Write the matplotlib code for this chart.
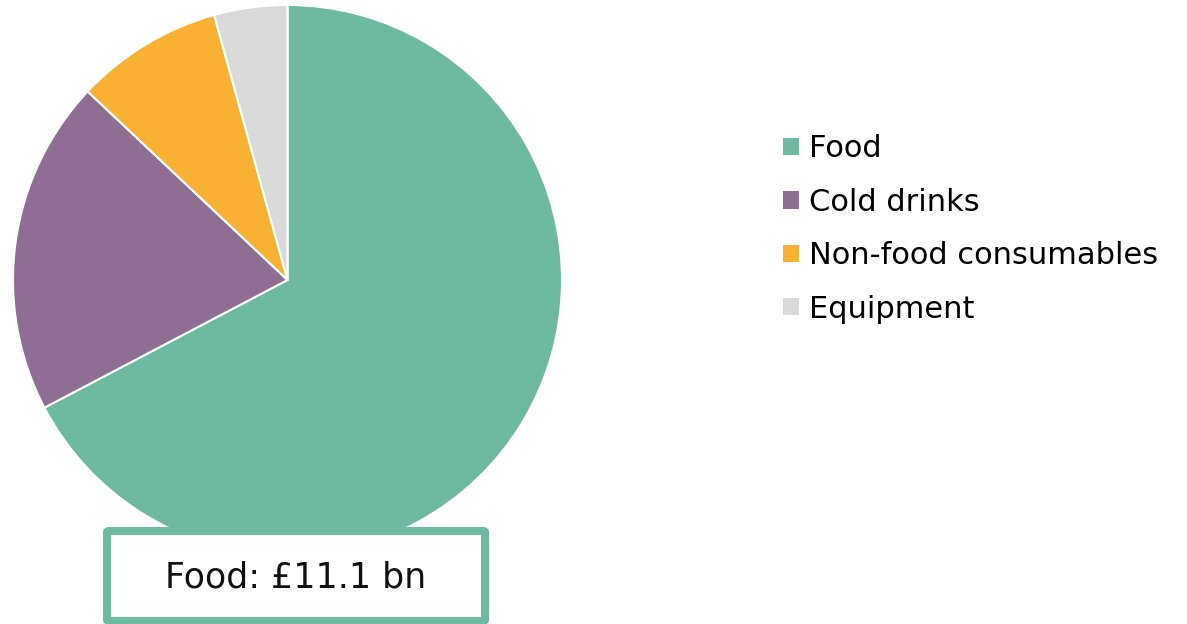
import matplotlib
matplotlib.use("Agg")
import matplotlib.pyplot as plt
from matplotlib.patches import FancyBboxPatch, Patch

# spend by category, £bn (food is labelled 11.1)
categories = ["Food", "Cold drinks", "Non-food consumables", "Equipment"]
values = [11.1, 3.25, 1.43, 0.71]
colours = ["#6DBAA1", "#8F6E93", "#F8B133", "#DADADA"]
callout = "Food: £11.1 bn"

plt.rcParams['font.family'] = ['DejaVu Sans']

W, H = 1187, 624
fig = plt.figure(figsize=(W / 100, H / 100), dpi=100)

# pie axes placed in pixel terms
ax = fig.add_axes([13 / W, (H - 555) / H, 549 / W, 550 / H])
ax.pie(values, colors=colours, startangle=90, counterclock=False,
       wedgeprops={'edgecolor': 'white', 'linewidth': 1.5})
ax.set_xlim(-1, 1)
ax.set_ylim(-1, 1)
ax.set_aspect('auto')
ax.axis('off')

# legend on the right
handles = [Patch(facecolor=c, edgecolor='none') for c in colours]
fig.legend(handles, categories, loc='upper left',
           bbox_to_anchor=(771 / W, 1 - 122 / H), frameon=False,
           fontsize=22, handlelength=0.5, handleheight=0.5,
           handletextpad=0.33, labelspacing=0.8, borderaxespad=0)

# callout box for food
box = FancyBboxPatch((107 / W, 1 - 621 / H), 378 / W, 90 / H,
                     boxstyle="round,pad=0,rounding_size=0.002",
                     transform=fig.transFigure, facecolor='white',
                     edgecolor=colours[0], linewidth=5.8, zorder=5)
fig.patches.append(box)
fig.text(296 / W, 1 - 578 / H, callout, ha='center', va='center',
         fontsize=25, color='#111111', zorder=6)

fig.savefig("out.png", dpi=100)
